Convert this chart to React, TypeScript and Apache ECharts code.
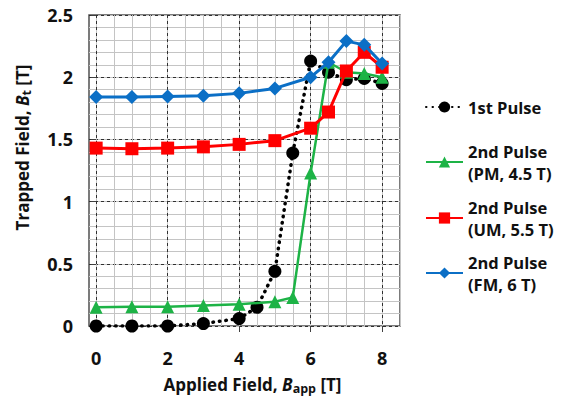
import React, { useEffect, useRef } from "react";
import * as echarts from "echarts";

// ---- data ----
const xFirst = [0, 1, 2, 3, 4, 4.5, 5, 5.5, 6, 6.5, 7, 7.5, 8];
const yFirst = [0, 0, 0, 0.02, 0.06, 0.15, 0.44, 1.39, 2.13, 2.04, 1.98, 1.99, 1.95];

const xPM = [0, 1, 2, 3, 4, 5, 5.5, 6, 6.5, 7, 7.5, 8];
const yPM = [0.15, 0.155, 0.155, 0.165, 0.175, 0.195, 0.23, 1.23, 2.12, 2.04, 2.03, 2.0];

const xUM = [0, 1, 2, 3, 4, 5, 6, 6.5, 7, 7.5, 8];
const yUM = [1.43, 1.425, 1.43, 1.44, 1.46, 1.49, 1.59, 1.72, 2.05, 2.2, 2.08];

const xFM = [0, 1, 2, 3, 4, 5, 6, 6.5, 7, 7.5, 8];
const yFM = [1.84, 1.84, 1.845, 1.85, 1.87, 1.91, 2.0, 2.12, 2.29, 2.26, 2.11];

const xMajorTicks = [0, 2, 4, 6, 8];
const xMinorTicks = [0, 0.5, 1, 1.5, 2, 2.5, 3, 3.5, 4, 4.5, 5, 5.5, 6, 6.5, 7, 7.5, 8, 8.5];

const seriesNames = [
  "1st Pulse",
  "2nd Pulse\n(PM, 4.5 T)",
  "2nd Pulse\n(UM, 5.5 T)",
  "2nd Pulse\n(FM, 6 T)",
];

const pairs = (xs: number[], ys: number[]) => xs.map((x, i) => [x, ys[i]]);

const FONT = "Open Sans";

export default function App() {
  const ref = useRef<HTMLDivElement>(null);
  useEffect(() => {
    if (!ref.current) return;
    const chart = echarts.init(ref.current, undefined, { renderer: "svg" });
    const legendBase = {
      orient: "vertical",
      left: 425,
      padding: 0,
      itemWidth: 37,
      itemHeight: 14,
      selectedMode: false,
      textStyle: {
        fontFamily: FONT,
        fontWeight: "bold",
        fontSize: 16.5,
        color: "#111",
        lineHeight: 22,
      },
    };
    const multi = {
      fontFamily: FONT,
      fontWeight: "bold",
      fontSize: 16.5,
      color: "#111",
      lineHeight: 22,
      padding: [22, 0, 0, 0],
    };
    const richTitle = {
      n: { fontFamily: FONT, fontWeight: "bold", fontSize: 17, color: "#111", lineHeight: 22 },
      i: { fontFamily: FONT, fontWeight: "bold", fontStyle: "italic", fontSize: 17, color: "#111", lineHeight: 22 },
      s: { fontFamily: FONT, fontWeight: "bold", fontSize: 12.5, color: "#111", lineHeight: 22, verticalAlign: "bottom", padding: [8, 0, 0, 0] },
    };
    chart.setOption({
      animation: false,
      backgroundColor: "#fff",
      grid: {
        left: 89,
        right: 173,
        top: 15,
        bottom: 81,
        show: true,
        borderColor: "#505050",
        borderWidth: 1.5,
        backgroundColor: "transparent",
      },
      xAxis: [
        {
          type: "value",
          min: -0.2,
          max: 8.5,
          splitNumber: 17,
          axisLine: { show: false },
          axisTick: { show: false, customValues: xMinorTicks },
          axisLabel: { show: false, customValues: xMinorTicks },
          splitLine: { show: true, lineStyle: { color: "#c4c4c4", width: 1 } },
        },
        {
          type: "value",
          min: -0.2,
          max: 8.5,
          splitNumber: 4,
          position: "bottom",
          axisLine: { show: false },
          axisTick: {
            show: true,
            inside: false,
            length: 6,
            lineStyle: { color: "#404040" },
            customValues: xMajorTicks,
          },
          axisLabel: {
            customValues: xMajorTicks,
            margin: 23,
            fontFamily: FONT,
            fontWeight: "bold",
            fontSize: 18,
            color: "#111",
          },
          splitLine: {
            show: true,
            lineStyle: { color: "#303030", width: 1, type: [3, 3] },
          },
          name: "{n|Applied Field, }{i|B}{s|app}{n| [T]}",
          nameLocation: "middle",
          nameGap: 47,
          nameTextStyle: {
            padding: [0, 0, 0, 16],
            rich: richTitle,
          },
        },
      ],
      yAxis: [
        {
          type: "value",
          min: 0,
          max: 2.5,
          interval: 0.1,
          axisLine: { show: false },
          axisTick: { show: false },
          axisLabel: { show: false },
          splitLine: { show: true, lineStyle: { color: "#c4c4c4", width: 1 } },
        },
        {
          type: "value",
          min: 0,
          max: 2.5,
          interval: 0.5,
          position: "left",
          axisLine: { show: false },
          axisTick: { show: true, inside: false, length: 5, lineStyle: { color: "#404040" } },
          axisLabel: {
            margin: 16,
            fontFamily: FONT,
            fontWeight: "bold",
            fontSize: 18,
            color: "#111",
          },
          splitLine: {
            show: true,
            lineStyle: { color: "#303030", width: 1, type: [3, 3] },
          },
          name: "{n|Trapped Field, }{i|B}{s|t}{n| [T]}",
          nameLocation: "middle",
          nameRotate: 90,
          nameGap: 56,
          nameTextStyle: {
            padding: [0, 0, 0, 46],
            rich: richTitle,
          },
        },
      ],
      legend: [
        { ...legendBase, top: 96, data: [{ name: seriesNames[0] }] },
        { ...legendBase, top: 129, data: [{ name: seriesNames[1], textStyle: multi }] },
        { ...legendBase, top: 185, data: [{ name: seriesNames[2], textStyle: multi }] },
        { ...legendBase, top: 240, data: [{ name: seriesNames[3], textStyle: multi }] },
      ],
      series: [
        {
          name: seriesNames[0],
          type: "line",
          xAxisIndex: 1,
          yAxisIndex: 1,
          data: pairs(xFirst, yFirst),
          symbol: "circle",
          symbolSize: 13,
          itemStyle: { color: "#000" },
          lineStyle: { color: "#000", width: 3.5, type: [0.5, 6], cap: "round" },
          z: 3,
        },
        {
          name: seriesNames[1],
          type: "line",
          xAxisIndex: 1,
          yAxisIndex: 1,
          data: pairs(xPM, yPM),
          symbol: "triangle",
          symbolSize: 13,
          itemStyle: { color: "#1db346" },
          lineStyle: { color: "#1db346", width: 2.5 },
          z: 4,
        },
        {
          name: seriesNames[2],
          type: "line",
          xAxisIndex: 1,
          yAxisIndex: 1,
          data: pairs(xUM, yUM),
          symbol: "rect",
          symbolSize: 13,
          itemStyle: { color: "#ff0000" },
          lineStyle: { color: "#ff0000", width: 3 },
          z: 5,
        },
        {
          name: seriesNames[3],
          type: "line",
          xAxisIndex: 1,
          yAxisIndex: 1,
          data: pairs(xFM, yFM),
          symbol: "diamond",
          symbolSize: 14,
          itemStyle: { color: "#0b6fc6" },
          lineStyle: { color: "#0b6fc6", width: 3 },
          z: 6,
        },
      ],
    });
    return () => chart.dispose();
  }, []);
  return (
    <div
      ref={ref}
      style={{ position: "fixed", left: 0, top: 0, width: 573, height: 407 }}
    />
  );
}
